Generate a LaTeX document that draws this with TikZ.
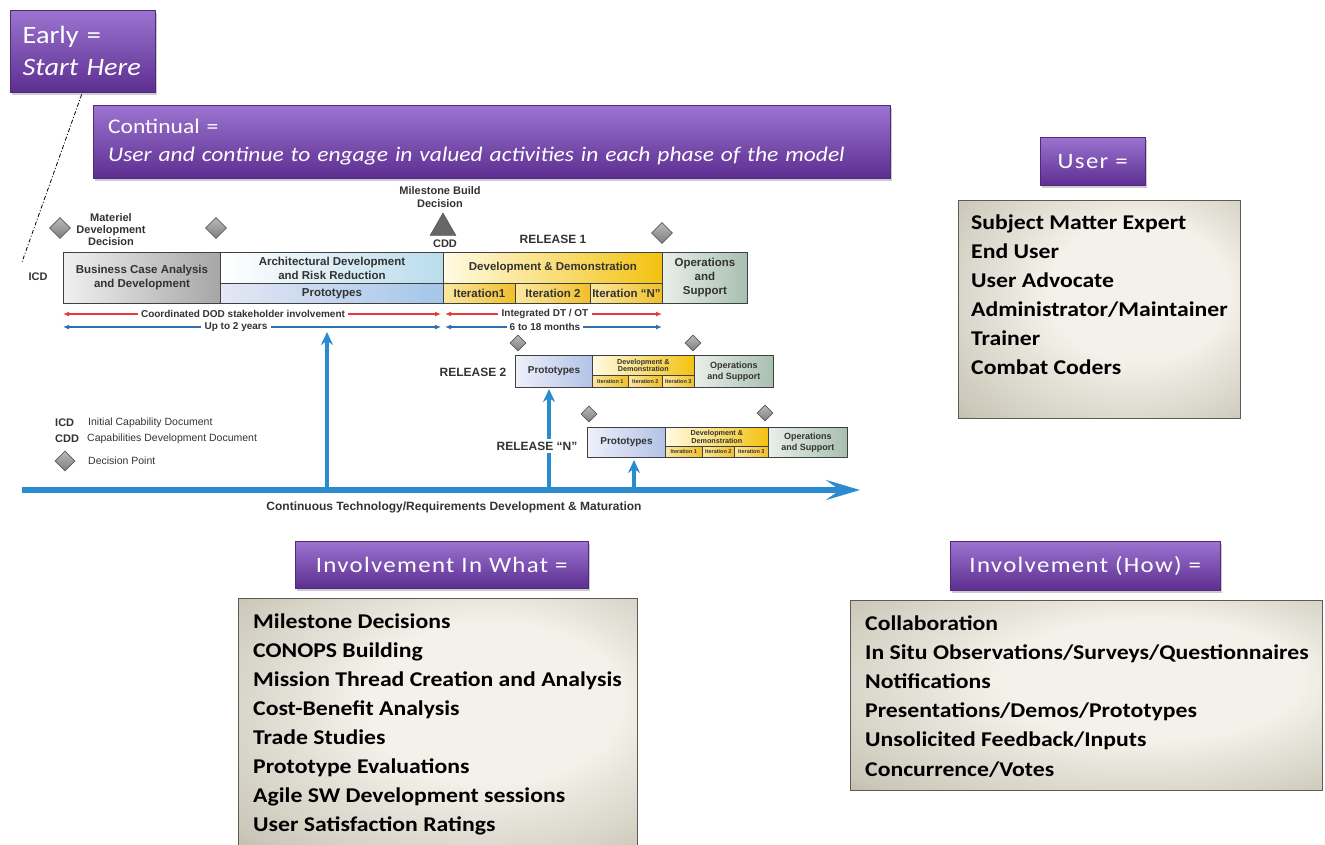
\documentclass[tikz,border=0pt]{standalone}
\usepackage{fontspec}
\setmainfont{Carlito}[FakeStretch=1.13]
\newfontfamily\arialfont{Liberation Sans}
\usetikzlibrary{shapes.geometric,arrows.meta,shadows,positioning}

\definecolor{purpletop}{HTML}{9C74D0}
\definecolor{purplebot}{HTML}{5C2E90}
\definecolor{purpleline}{HTML}{52287D}
\definecolor{panelin}{HTML}{F3F1E9}
\definecolor{panelmid}{HTML}{CBC8BA}
\definecolor{panelout}{HTML}{86836F}
\definecolor{inkgray}{HTML}{333333}
\definecolor{spanred}{HTML}{E53B3A}
\definecolor{spanblue}{HTML}{2F6FAE}
\definecolor{flowblue}{HTML}{2A8CCF}
\definecolor{dpgray}{HTML}{8C8C8C}
\definecolor{bcaL}{HTML}{F0F0F0}
\definecolor{bcaR}{HTML}{A6A6A6}
\definecolor{ardL}{HTML}{FFFFFF}
\definecolor{ardR}{HTML}{B9DCEB}
\definecolor{protoL}{HTML}{E4E7F5}
\definecolor{protoR}{HTML}{A4C6E9}
\definecolor{ddL}{HTML}{FFFBE3}
\definecolor{ddR}{HTML}{F3C210}
\definecolor{itL}{HTML}{FBE7A0}
\definecolor{itR}{HTML}{F0BF2A}
\definecolor{opsL}{HTML}{E9EFE9}
\definecolor{opsR}{HTML}{A7BFB0}
\definecolor{relprotoL}{HTML}{EEF0FA}
\definecolor{relprotoR}{HTML}{B2C2E6}

\pgfdeclareradialshading{panel}{\pgfpoint{10bp}{6bp}}{color(0bp)=(panelin); color(16bp)=(panelin); color(36bp)=(panelmid); color(52bp)=(panelout)}

\tikzset{
  callout/.style={draw=purpleline, top color=purpletop, bottom color=purplebot,
    text=white, inner sep=0pt, anchor=north west,
    drop shadow={shadow xshift=2pt, shadow yshift=-3pt, opacity=0.4}},
  headfont/.style={font=\addfontfeature{LetterSpace=6}\fontsize{22}{26}\selectfont},
  panelbox/.style={draw=panelout!70!black, shading=panel, anchor=north west, inner sep=0pt},
  listitem/.style={anchor=base west, inner sep=0pt, font=\bfseries\fontsize{21}{25}\selectfont},
  phase/.style={draw=black!75, line width=0.9pt, anchor=north west, inner sep=0pt,
    text=inkgray, align=center, font=\arialfont\bfseries\fontsize{11.5}{14}\selectfont},
  smallphase/.style={phase, font=\arialfont\bfseries\fontsize{9.5}{12}\selectfont},
  tinyphase/.style={phase, line width=0.7pt, font=\arialfont\bfseries\fontsize{5.5}{6}\selectfont},
  dlabel/.style={inner sep=1pt, text=inkgray, align=center, font=\arialfont\bfseries\fontsize{11}{12}\selectfont},
  spanlabel/.style={inner sep=3pt, text=inkgray, font=\arialfont\bfseries\fontsize{10}{12}\selectfont},
  legtext/.style={inner sep=0pt, anchor=west, text=inkgray, font=\arialfont\fontsize{10.5}{12}\selectfont},
  decision/.style={diamond, draw=black!65, line width=0.7pt, top color=dpgray!60, bottom color=dpgray!90!black,
    inner sep=0pt, minimum size=21},
  redspan/.style={spanred, line width=1.6pt, -{Latex[length=6,width=5]}},
  bluespan/.style={spanblue, line width=1.6pt, -{Latex[length=6,width=5]}},
  flow/.style={flowblue, line width=4pt, -{Stealth[length=13,width=12]}}
}

\begin{document}
\begin{tikzpicture}[x=1pt, y=-1pt]
  \useasboundingbox (0,0) rectangle (1325,844);

  % purple headings
  \node[callout, minimum width=145, minimum height=82, text width=120, align=left,
    font=\fontsize{25}{32}\selectfont] (early) at (10,10) {Early =\\\textit{Start Here}};
  \node[callout, minimum width=797, minimum height=73, text width=767, align=left,
    font=\fontsize{20.8}{28}\selectfont] (continual) at (93,105)
    {Continual =\\\textit{User and continue to engage in valued activities in each phase of the model}};
  \node[callout, headfont, minimum width=105, minimum height=48] (user) at (1040,137) {User =};
  \node[callout, headfont, minimum width=293, minimum height=47] (inwhat) at (295,541) {Involvement In What =};
  \node[callout, headfont, minimum width=270, minimum height=49] (inhow) at (950,541) {Involvement (How) =};

  \coordinate (icdend) at (22,262);
  \draw[line width=0.8pt, dash pattern=on 4pt off 2pt on 1pt off 2pt] (early.south) ++(-1,2) -- (icdend);

  % lists
  \node[panelbox, minimum width=282, minimum height=218] (userpanel) at (958,200) {};
  \foreach \item [count=\i] in {Subject Matter Expert, End User, User Advocate,
      Administrator/Maintainer, Trainer, Combat Coders}
    \node[listitem] (user\i) at (971,229+29*\i-29) {\item};

  \node[panelbox, minimum width=399, minimum height=250] (whatpanel) at (238,598) {};
  \foreach \item [count=\i] in {Milestone Decisions, CONOPS Building, Mission Thread Creation and Analysis,
      Cost-Benefit Analysis, Trade Studies, Prototype Evaluations,
      Agile SW Development sessions, User Satisfaction Ratings}
    \node[listitem] (what\i) at (253,628+29.1*\i-29.1) {\item};

  \node[panelbox, minimum width=472, minimum height=190] (howpanel) at (850,600) {};
  \foreach \item [count=\i] in {Collaboration, In Situ Observations/Surveys/Questionnaires, Notifications,
      Presentations/Demos/Prototypes, Unsolicited Feedback/Inputs, Concurrence/Votes}
    \node[listitem] (how\i) at (865,630+29.2*\i-29.2) {\item};

  % release 1
  \node[phase, minimum width=157, minimum height=51, left color=bcaL, right color=bcaR] (bca) at (63,252)
    {Business Case Analysis\\and Development};
  \node[phase, minimum width=223, minimum height=31, left color=ardL, right color=ardR] (ard) at (220,252)
    {Architectural Development\\and Risk Reduction};
  \node[phase, minimum width=223, minimum height=20, left color=protoL, right color=protoR] (proto1) at (220,283)
    {Prototypes};
  \node[phase, minimum width=219, minimum height=31, left color=ddL, right color=ddR] (dd1) at (443,252)
    {Development \& Demonstration};
  \foreach \x/\w/\t [count=\i] in {443/72/Iteration1, 515/75/Iteration 2, 590/72/Iteration “N”}
    \node[phase, minimum width=\w, minimum height=20, left color=itL, right color=itR] (it1\i) at (\x,283) {\t};
  \node[phase, minimum width=85, minimum height=51, left color=opsL, right color=opsR] (ops1) at (662,252)
    {Operations\\and\\Support};

  \node[dlabel] (icd) at (38,277) {ICD};
  \node[dlabel, font=\arialfont\bfseries\fontsize{11}{11.8}\selectfont] (mdd) at (111,229.5) {Materiel\\Development\\Decision};
  \node[decision] (dp1) at (60,228) {};
  \node[decision] (dp2) at (216,228) {};
  \node[regular polygon, regular polygon sides=3, draw=black!70, fill=gray!80!black, inner sep=0pt, minimum size=30] (build) at (443,228) {};
  \node[dlabel, font=\arialfont\bfseries\fontsize{11}{13}\selectfont] (buildlbl) at (440,197.5) {Milestone Build\\Decision};
  \node[dlabel] (cdd) at (445,244) {CDD};
  \node[dlabel, font=\arialfont\bfseries\fontsize{12}{14}\selectfont] (rel1) at (553,239) {RELEASE 1};
  \node[decision] (dp3) at (662,233) {};

  % spans
  \node[spanlabel] (dodlbl) at (243,314) {Coordinated DOD stakeholder involvement};
  \coordinate (dodl) at (63,314);
  \coordinate (dodr) at (441,314);
  \draw[redspan] (dodlbl) -- (dodl);
  \draw[redspan] (dodlbl) -- (dodr);
  \node[spanlabel] (dtlbl) at (545,314) {Integrated DT / OT};
  \coordinate (dtl) at (445,314);
  \coordinate (dtr) at (662,314);
  \draw[redspan] (dtlbl) -- (dtl);
  \draw[redspan] (dtlbl) -- (dtr);
  \node[spanlabel] (twolbl) at (236,327) {Up to 2 years};
  \coordinate (twol) at (63,327);
  \coordinate (twor) at (441,327);
  \draw[bluespan] (twolbl) -- (twol);
  \draw[bluespan] (twolbl) -- (twor);
  \node[spanlabel] (monlbl) at (545,327) {6 to 18 months};
  \coordinate (monl) at (445,327);
  \coordinate (monr) at (662,327);
  \draw[bluespan] (monlbl) -- (monl);
  \draw[bluespan] (monlbl) -- (monr);

  % release 2
  \node[smallphase, minimum width=77, minimum height=32, font=\arialfont\bfseries\fontsize{10}{12}\selectfont,
    left color=relprotoL, right color=relprotoR] (proto2) at (515,355) {Prototypes};
  \node[tinyphase, minimum width=102, minimum height=20, font=\arialfont\bfseries\fontsize{7.2}{7.6}\selectfont,
    left color=ddL, right color=ddR] (dd2) at (592,355) {Development \&\\Demonstration};
  \foreach \x/\w [count=\i] in {592/36, 628/34, 662/32}
    \node[tinyphase, minimum width=\w, minimum height=12, left color=itL, right color=itR] (it2\i) at (\x,375) {Iteration \i};
  \node[smallphase, minimum width=79, minimum height=32, font=\arialfont\bfseries\fontsize{9}{11.5}\selectfont,
    left color=opsL, right color=opsR] (ops2) at (694,355) {Operations\\and Support};
  \node[dlabel, font=\arialfont\bfseries\fontsize{12}{14}\selectfont] (rel2) at (473,372) {RELEASE 2};
  \node[decision, minimum size=16] (dp4) at (518,343) {};
  \node[decision, minimum size=16] (dp5) at (693,343) {};

  % release N
  \node[smallphase, minimum width=78, minimum height=30, font=\arialfont\bfseries\fontsize{10}{12}\selectfont,
    left color=relprotoL, right color=relprotoR] (protoN) at (587,427) {Prototypes};
  \node[tinyphase, minimum width=103, minimum height=19, font=\arialfont\bfseries\fontsize{7.2}{7.6}\selectfont,
    left color=ddL, right color=ddR] (ddN) at (665,427) {Development \&\\Demonstration};
  \foreach \x/\w [count=\i] in {665/37, 702/32, 734/34}
    \node[tinyphase, minimum width=\w, minimum height=11, left color=itL, right color=itR] (itN\i) at (\x,446) {Iteration \i};
  \node[smallphase, minimum width=79, minimum height=30, font=\arialfont\bfseries\fontsize{9}{11.5}\selectfont,
    left color=opsL, right color=opsR] (opsN) at (768,427) {Operations\\and Support};
  \node[decision, minimum size=16] (dp6) at (589,414) {};
  \node[decision, minimum size=16] (dp7) at (765,413) {};

  % legend
  \node[dlabel, anchor=west, inner sep=0pt] (lgicd) at (55,423) {ICD};
  \node[legtext] (lgicdt) at (88,423) {Initial Capability Document};
  \node[dlabel, anchor=west, inner sep=0pt] (lgcdd) at (55,439) {CDD};
  \node[legtext] (lgcddt) at (87,439) {Capabilities Development Document};
  \node[decision, minimum size=20] (lgdp) at (65,461) {};
  \node[legtext] (lgdpt) at (88,461) {Decision Point};

  % timeline
  \coordinate (tstart) at (22,490);
  \coordinate (tend) at (860,490);
  \draw[flowblue, line width=5.5pt, -{Stealth[length=34,width=20,inset=14]}] (tstart) -- (tend);
  \node[dlabel, font=\arialfont\bfseries\fontsize{12}{14}\selectfont] (tlbl) at (454,507)
    {Continuous Technology/Requirements Development \& Maturation};
  \coordinate (t1) at (327,490);
  \coordinate (t1top) at (327,332);
  \coordinate (t2) at (549,490);
  \coordinate (t2top) at (549,389);
  \coordinate (t3) at (634,490);
  \coordinate (t3top) at (634,460);
  \draw[flow] (t1) -- (t1top);
  \draw[flow] (t2) -- (t2top);
  \draw[flow] (t3) -- (t3top);
  \node[dlabel, fill=white, inner sep=3pt, font=\arialfont\bfseries\fontsize{12}{14}\selectfont] (relN) at (537,446) {RELEASE “N”};
\end{tikzpicture}
\end{document}
